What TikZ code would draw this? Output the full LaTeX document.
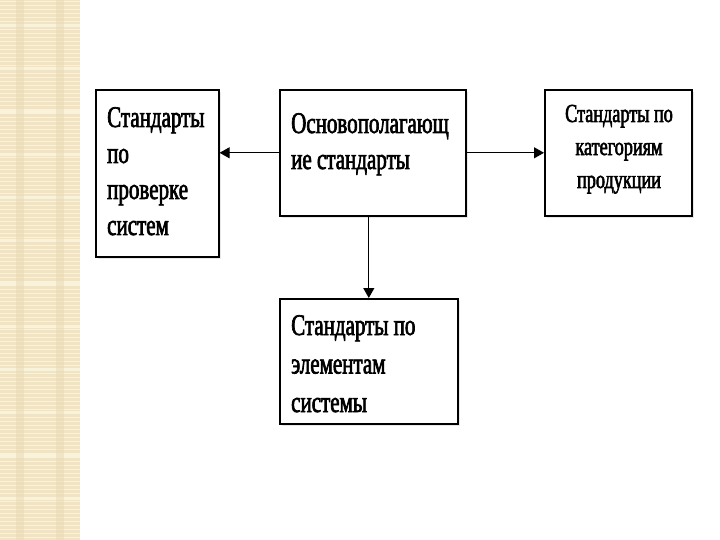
\documentclass[tikz,border=0pt]{standalone}
\usepackage{fontspec}
\setmainfont{Liberation Serif}
\newfontfamily\boxfont[FakeStretch=0.7,FakeBold=2.2]{Liberation Serif}
\usepackage{xcolor}
\usetikzlibrary{arrows.meta,shadows,calc,positioning}
\definecolor{stripbase}{RGB}{241,228,196}
\definecolor{striplight}{RGB}{250,243,220}
\definecolor{stripdark}{RGB}{232,216,180}

\begin{document}
\begin{tikzpicture}[x=1pt, y=-1pt,
		stdbox/.style={draw, line width=1.6pt, fill=white, inner sep=0pt,
			drop shadow={opacity=0.18, shadow xshift=2pt, shadow yshift=-2pt}},
		boxtext/.style={font=\boxfont\fontsize{30}{36}\selectfont, align=left, inner sep=0pt},
		link/.style={line width=1pt, -{Triangle[length=10pt, width=11pt]}}]
		\useasboundingbox (0,0) rectangle (720,540);
		% left strip
		\fill [stripbase] (0,0) rectangle (80,540);
		\foreach \y in {1,5,...,537}
		\fill [striplight] (0,\y) rectangle (80,\y+1.2);
		\foreach \y in {24,67,...,540}
		\fill [striplight] (0,\y) rectangle (80,\y+3);
		\foreach \x in {16,56}
		\fill [stripdark, opacity=0.5] (\x,0) rectangle (\x+8,540);
		% boxes
		\node [stdbox, anchor=north west, minimum width=123, minimum height=167] (check) at (95,89) {};
		\node [stdbox, anchor=north west, minimum width=186, minimum height=126] (main) at (279,89) {};
		\node [stdbox, anchor=north west, minimum width=147, minimum height=126] (prod) at (544,89) {};
		\node [stdbox, anchor=north west, minimum width=178, minimum height=125] (elem) at (279,298) {};
		% texts (base = last line)
		\node [boxtext, anchor=base west] (checktext) at (107,235) {Стандарты\\по\\проверке\\систем};
		\node [boxtext, anchor=base west] (maintext) at (291,169) {Основополагающ\\ие стандарты};
		\node [boxtext, font=\boxfont\fontsize{26}{33}\selectfont, align=center, anchor=base] (prodtext) at (619,188) {Стандарты по\\категориям\\продукции};
		\node [boxtext, font=\boxfont\fontsize{30}{38.5}\selectfont, anchor=base west] (elemtext) at (291,412) {Стандарты по\\элементам\\системы};
		% connectors
		\draw [link] (main.west) -- (main.west -| check.east);
		\draw [link] (main.east) -- (prod.west);
		\draw [link] (elem.north |- main.south) -- (elem.north);
\end{tikzpicture}
\end{document}
